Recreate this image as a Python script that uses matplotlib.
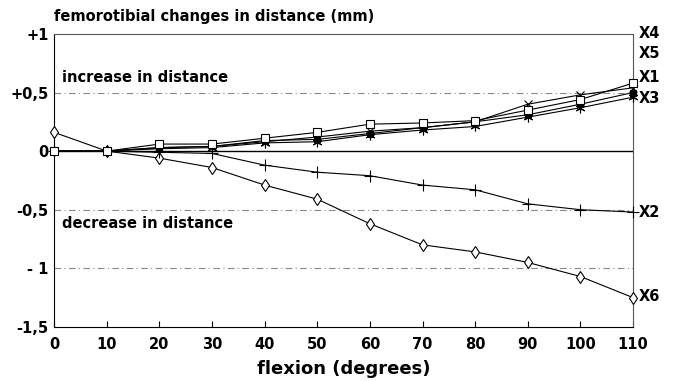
import matplotlib.pyplot as plt
import numpy

plt.rcParams['font.family'] = ['DejaVu Sans']
plt.rcParams['font.weight'] = 'bold'

flexion = [0, 10, 20, 30, 40, 50, 60, 70, 80, 90, 100, 110]

# femorotibial changes in distance (mm)
X1 = [0.0, 0.0, 0.06, 0.06, 0.11, 0.16, 0.23, 0.24, 0.26, 0.35, 0.44, 0.58]
X2 = [0.0, 0.0, -0.01, -0.02, -0.12, -0.18, -0.21, -0.29, -0.33, -0.45, -0.50, -0.52]
X3 = [0.0, 0.0, 0.02, 0.03, 0.07, 0.08, 0.14, 0.18, 0.21, 0.29, 0.37, 0.46]
X4 = [0.0, 0.0, 0.03, 0.04, 0.08, 0.12, 0.17, 0.20, 0.25, 0.40, 0.48, 0.54]
X5 = [0.0, 0.0, 0.03, 0.04, 0.09, 0.10, 0.15, 0.20, 0.25, 0.31, 0.40, 0.50]
X6 = [0.16, 0.0, -0.06, -0.14, -0.29, -0.41, -0.62, -0.80, -0.86, -0.95, -1.07, -1.25]

yticks = [1, 0.5, 0, -0.5, -1, -1.5]
ylabels = ['+1', '+0,5', '0', '-0,5', '- 1', '-1,5']

fig = plt.figure(figsize=(6.77, 3.81), dpi=100)
ax = fig.add_axes([0.080, 0.142, 0.855, 0.769])

for v in [0.5, -0.5, -1]:
    ax.axhline(v, color='#888888', lw=0.8, ls=(0, (6, 3, 1, 3)), zorder=1)
ax.axhline(0, color='black', lw=1.0, zorder=1)

style = dict(color='black', lw=0.8, mew=0.8, clip_on=False)
ax.plot(flexion, X6, marker='d', ms=6, mfc='white', zorder=3, **style)
ax.plot(flexion, X2, marker='+', ms=8, zorder=3, **style)
ax.plot(flexion, X4, marker='x', ms=6, zorder=3, **style)
ax.plot(flexion, X5, marker='s', ms=4, mfc='black', zorder=3, **style)
ax.plot(flexion, X3, marker=(6, 2, 0), ms=7, zorder=3, **style)
ax.plot(flexion, X1, marker='s', ms=6, mfc='white', zorder=4, **style)

# series labels at the right
labels = [('X4', 1.0), ('X5', 0.83), ('X1', 0.63), ('X3', 0.45), ('X2', -0.52), ('X6', -1.24)]
for name, yv in labels:
    ax.text(1.01, yv, name, transform=ax.get_yaxis_transform(), fontsize=10.5,
            fontweight='bold', va='center', ha='left')

ax.text(1.5, 0.56, 'increase in distance', fontsize=10.5, fontweight='bold', va='bottom')
ax.text(1.5, -0.55, 'decrease in distance', fontsize=10.5, fontweight='bold', va='top')

ax.set_xlim(0, 110)
ax.set_ylim(-1.5, 1)
ax.set_xticks(range(0, 111, 10))
ax.set_yticks(yticks)
ax.set_yticklabels(ylabels)
ax.tick_params(axis='x', direction='in', length=4, labelsize=10.5, pad=7)
ax.tick_params(axis='y', length=0, labelsize=10.5, pad=4)
for lab in ax.get_xticklabels() + ax.get_yticklabels():
    lab.set_fontweight('bold')

ax.spines['top'].set_color('#555555')
ax.spines['top'].set_linewidth(0.8)
ax.spines['right'].set_color('#555555')
ax.spines['right'].set_linewidth(0.8)

ax.set_xlabel('flexion (degrees)', fontsize=13, fontweight='bold', labelpad=6)
fig.text(0.080, 0.957, 'femorotibial changes in distance (mm)', fontsize=10.5,
         fontweight='bold', va='center', ha='left')

fig.savefig('out.png', dpi=100)
